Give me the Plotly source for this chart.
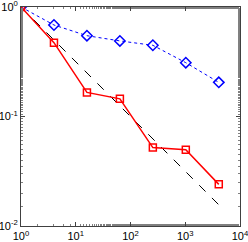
import plotly.graph_objects as go

n_values = [1, 4, 16, 64, 256, 1024, 4096]
red_values = [1.0, 0.472, 0.166, 0.145, 0.052, 0.0497, 0.024]
blue_values = [1.0, 0.685, 0.547, 0.49, 0.447, 0.31, 0.205]
ref_values = [1.0, 0.5, 0.25, 0.125, 0.0625, 0.03125, 0.015625]

x_tickvals = [1, 10, 100, 1000, 10000]
x_ticktext = ["10<sup>0</sup>", "10<sup>1</sup>", "10<sup>2</sup>", "10<sup>3</sup>", "10<sup>4</sup>"]
y_tickvals = [0.01, 0.1, 1]
y_ticktext = ["10<sup>-2</sup>", "10<sup>-1</sup>", "10<sup>0</sup>"]

fig = go.Figure()
fig.add_trace(go.Scatter(x=n_values, y=ref_values, mode="lines",
                         line=dict(color="black", width=1, dash="dash")))
fig.add_trace(go.Scatter(x=n_values, y=blue_values, mode="lines+markers",
                         line=dict(color="#0000ff", width=1, dash="dot"),
                         marker=dict(symbol="diamond-open", size=8, color="#0000ff",
                                     line=dict(width=1.5, color="#0000ff"))))
fig.add_trace(go.Scatter(x=n_values, y=red_values, mode="lines+markers",
                         line=dict(color="#ff0000", width=1.5),
                         marker=dict(symbol="square-open", size=7, color="#ff0000",
                                     line=dict(width=1.5, color="#ff0000"))))

axis_common = dict(type="log", showgrid=False, zeroline=False, showline=True,
                   linecolor="#404040", linewidth=1, mirror="ticks", ticks="inside",
                   ticklen=4, tickcolor="#404040", automargin=False,
                   ticklabeloverflow="allow", ticklabelstandoff=0,
                   tickfont=dict(family="Liberation Sans, Arial", size=11, color="black"),
                   minor=dict(ticks="inside", ticklen=2, tickcolor="#808080", showgrid=False))

fig.update_xaxes(range=[0, 4], tickvals=x_tickvals, ticktext=x_ticktext, **axis_common)
fig.update_yaxes(range=[-2, 0], tickvals=y_tickvals, ticktext=y_ticktext, **axis_common)

fig.update_layout(width=248, height=242, margin=dict(l=21, r=8, t=7, b=16),
                  paper_bgcolor="white", plot_bgcolor="white", showlegend=False)

fig.write_html("out.html", config={"displayModeBar": False},
               post_script="document.body.style.margin='0px';document.body.style.overflow='hidden';")
